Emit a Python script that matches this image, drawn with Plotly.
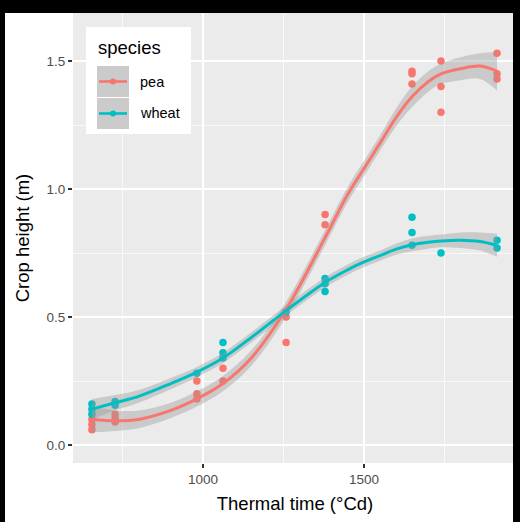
import plotly.graph_objects as go

# ---------------- data ----------------
species = ["pea", "wheat"]
colors = {"pea": "#F8766D", "wheat": "#00BFC4"}

pea_x = [655, 655, 655, 727, 727, 727, 981, 981, 981, 1062, 1062, 1258, 1258,
         1379, 1379, 1649, 1649, 1649, 1739, 1739, 1739, 1913, 1913, 1913]
pea_y = [0.10, 0.08, 0.06, 0.12, 0.105, 0.09, 0.25, 0.20, 0.18, 0.30, 0.25, 0.50, 0.40,
         0.90, 0.86, 1.46, 1.45, 1.41, 1.50, 1.40, 1.30, 1.53, 1.45, 1.43]

wheat_x = [655, 655, 655, 727, 727, 981, 1062, 1062, 1062, 1258, 1379, 1379, 1379,
           1649, 1649, 1649, 1739, 1913, 1913]
wheat_y = [0.16, 0.14, 0.12, 0.17, 0.155, 0.28, 0.40, 0.36, 0.34, 0.52, 0.65, 0.63, 0.60,
           0.89, 0.83, 0.78, 0.75, 0.80, 0.77]

# smooth curves (loess)
smooth_x = [655, 727, 800, 900, 981, 1062, 1150, 1258, 1379, 1450, 1500, 1550, 1600,
            1649, 1700, 1739, 1800, 1860, 1913]
pea_fit = [0.10, 0.095, 0.10, 0.135, 0.18, 0.24, 0.34, 0.53, 0.81, 0.98, 1.08, 1.18, 1.28,
           1.36, 1.42, 1.45, 1.47, 1.48, 1.46]
pea_se = [0.05, 0.04, 0.035, 0.03, 0.03, 0.03, 0.03, 0.03, 0.03, 0.03, 0.03, 0.03, 0.035,
          0.04, 0.04, 0.04, 0.045, 0.05, 0.075]
wheat_fit = [0.14, 0.165, 0.19, 0.24, 0.285, 0.34, 0.42, 0.525, 0.635, 0.685, 0.715, 0.74,
             0.765, 0.782, 0.792, 0.797, 0.80, 0.795, 0.78]
wheat_se = [0.04, 0.03, 0.025, 0.022, 0.02, 0.02, 0.02, 0.02, 0.02, 0.02, 0.02, 0.02, 0.022,
            0.025, 0.025, 0.025, 0.03, 0.035, 0.045]

x_ticks = [1000, 1500]
y_ticks = [0.0, 0.5, 1.0, 1.5]
y_ticklabels = ["0.0", "0.5", "1.0", "1.5"]

points = {"pea": (pea_x, pea_y), "wheat": (wheat_x, wheat_y)}
smooths = {"pea": (pea_fit, pea_se), "wheat": (wheat_fit, wheat_se)}

# ---------------- layout geometry ----------------
W, H = 520, 522
ML, MR, MT, MB = 73, 3, 13, 59
PW, PH = W - ML - MR, H - MT - MB
FONT = "Liberation Sans, Arial, Helvetica, sans-serif"


def fx(px):
    return (px - ML) / PW


def fy(py):
    return (H - MB - py) / PH


fig = go.Figure()

# points first (ggplot draws them below the smooth)
for sp in species:
    xs, ys = points[sp]
    fig.add_trace(go.Scatter(x=xs, y=ys, mode="markers",
                             marker=dict(color=colors[sp], size=7.5, line=dict(width=0)),
                             showlegend=False, hoverinfo="skip"))

# ribbons + lines
for sp in species:
    fit, se = smooths[sp]
    upper = [f + s for f, s in zip(fit, se)]
    lower = [f - s for f, s in zip(fit, se)]
    fig.add_trace(go.Scatter(x=smooth_x, y=upper, mode="lines", line=dict(width=0, shape="spline"),
                             showlegend=False, hoverinfo="skip"))
    fig.add_trace(go.Scatter(x=smooth_x, y=lower, mode="lines", line=dict(width=0, shape="spline"),
                             fill="tonexty", fillcolor="rgba(153,153,153,0.4)",
                             showlegend=False, hoverinfo="skip"))
for sp in species:
    fit, se = smooths[sp]
    fig.add_trace(go.Scatter(x=smooth_x, y=fit, mode="lines",
                             line=dict(color=colors[sp], width=3, shape="spline"),
                             name=sp, showlegend=False, hoverinfo="skip"))

# ---------------- manual ggplot-style legend ----------------
shapes = []
shapes.append(dict(type="rect", xref="paper", yref="paper", layer="above",
                   x0=fx(86), x1=fx(191), y0=fy(134), y1=fy(27),
                   fillcolor="white", line=dict(width=0)))
key_rows = {"pea": (66, 97), "wheat": (98, 129)}
for sp in species:
    top, bot = key_rows[sp]
    cy = (top + bot) / 2
    shapes.append(dict(type="rect", xref="paper", yref="paper", layer="above",
                       x0=fx(97), x1=fx(129), y0=fy(bot), y1=fy(top),
                       fillcolor="#CBCBCB", line=dict(width=0)))
    shapes.append(dict(type="line", xref="paper", yref="paper", layer="above",
                       x0=fx(99), x1=fx(127), y0=fy(cy), y1=fy(cy),
                       line=dict(color=colors[sp], width=2.6)))
    shapes.append(dict(type="circle", xref="paper", yref="paper", layer="above",
                       x0=fx(110), x1=fx(116), y0=fy(cy + 3), y1=fy(cy - 3),
                       fillcolor=colors[sp], line=dict(width=0)))

# black frame of the screenshot (top, left, right)
frame = [(0, W, 0, 13), (0, 5, 0, H), (513, W, 0, H)]
for (xa, xb, ya, yb) in frame:
    shapes.append(dict(type="rect", xref="paper", yref="paper", layer="above",
                       x0=fx(xa), x1=fx(xb), y0=fy(yb), y1=fy(ya),
                       fillcolor="black", line=dict(width=0)))

annotations = [
    dict(text="species", xref="paper", yref="paper", x=fx(96), y=fy(47),
         xanchor="left", yanchor="middle", showarrow=False,
         font=dict(family=FONT, size=18.5, color="black")),
    dict(text="pea", xref="paper", yref="paper", x=fx(138), y=fy(82),
         xanchor="left", yanchor="middle", showarrow=False,
         font=dict(family=FONT, size=14.5, color="black")),
    dict(text="wheat", xref="paper", yref="paper", x=fx(138), y=fy(113),
         xanchor="left", yanchor="middle", showarrow=False,
         font=dict(family=FONT, size=14.5, color="black")),
]

fig.update_layout(
    width=W, height=H,
    margin=dict(l=ML, r=MR, t=MT, b=MB, pad=0),
    paper_bgcolor="white", plot_bgcolor="#EBEBEB",
    font=dict(family=FONT),
    shapes=shapes, annotations=annotations,
    showlegend=False,
)
fig.update_xaxes(
    range=[596.3, 1975], tickvals=x_ticks, ticktext=[str(v) for v in x_ticks],
    showgrid=True, gridcolor="white", gridwidth=1.4, zeroline=False, showline=False,
    ticks="outside", ticklen=4, tickwidth=1.1, tickcolor="#333333",
    tickfont=dict(family=FONT, size=13.5, color="#4D4D4D"),
    minor=dict(dtick=250, tick0=0, showgrid=True, gridcolor="white", gridwidth=0.7, ticks=""),
    title=dict(text="Thermal time (°Cd)", font=dict(family=FONT, size=18.5, color="black"), standoff=10),
)
fig.update_yaxes(
    range=[-0.0703, 1.6875], tickvals=y_ticks, ticktext=y_ticklabels,
    showgrid=True, gridcolor="white", gridwidth=1.4, zeroline=False, showline=False,
    ticks="outside", ticklen=4, tickwidth=1.1, tickcolor="#333333",
    tickfont=dict(family=FONT, size=13.5, color="#4D4D4D"),
    minor=dict(dtick=0.25, tick0=0, showgrid=True, gridcolor="white", gridwidth=0.7, ticks=""),
    title=dict(text="Crop height (m)", font=dict(family=FONT, size=18.5, color="black"), standoff=12),
)

fig.write_html("out.html", config={"displayModeBar": False, "staticPlot": True},
               post_script="document.body.style.margin='0';")
